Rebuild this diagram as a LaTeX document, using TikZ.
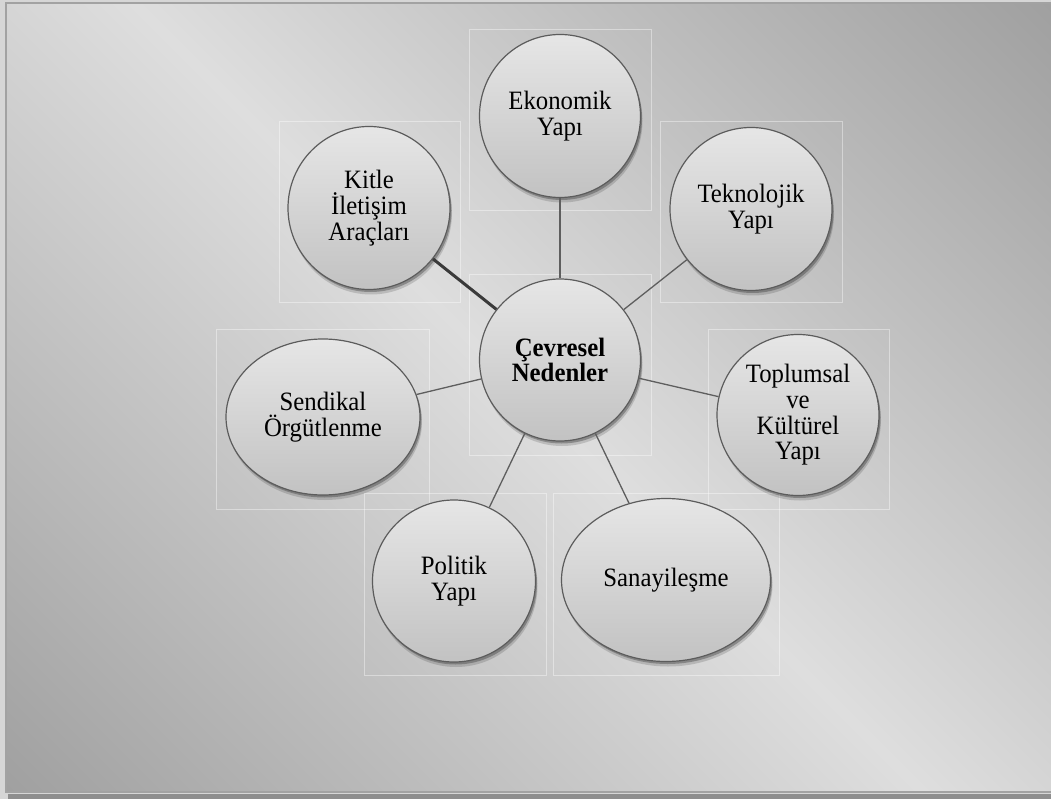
\documentclass[tikz,border=0pt]{standalone}
\usepackage{fontspec}
\setmainfont{Liberation Serif}[FakeStretch=0.935]
\usetikzlibrary{shapes.geometric,shadows}
\definecolor{bgdark}{HTML}{9E9E9E}
\definecolor{bglight}{HTML}{DEDEDE}
\definecolor{outerbg}{HTML}{D6D6D6}
\definecolor{framecol}{HTML}{A2A2A2}
\definecolor{stripcol}{HTML}{8E8E8E}
\definecolor{nodetop}{HTML}{E6E6E6}
\definecolor{nodebot}{HTML}{C2C2C2}
\definecolor{nodeline}{HTML}{5C5C5C}
\definecolor{linkcol}{HTML}{5E5E5E}
\definecolor{thicklink}{HTML}{3A3A3A}
\tikzset{
  bubble/.style={ellipse, draw=nodeline, line width=1.2pt, top color=nodetop, bottom color=nodebot,
    inner sep=0pt, align=center, font=\fontsize{26.5}{25.7}\selectfont,
    drop shadow={shadow xshift=1.5pt, shadow yshift=-2.5pt, opacity=0.35, fill=black!80},
    drop shadow={shadow xshift=2pt, shadow yshift=-5pt, opacity=0.15, fill=black}},
  link/.style={draw=linkcol, line width=1.3pt},
  boldlink/.style={draw=thicklink, line width=3pt},
  ghost/.style={draw=white, line width=0.8pt, opacity=0.4}
}
\begin{document}
\begin{tikzpicture}[x=1pt,y=-1pt]
\useasboundingbox (0,0) rectangle (1051,799);
\fill[outerbg] (0,0) rectangle (1051,799);
\fill[stripcol] (8,794) rectangle (1051,799);
\begin{scope}
  \clip (6,3) rectangle (1051,792);
  \shade[left color=bgdark, right color=bgdark, middle color=bglight,
    transform canvas={rotate around={45:(528,397)}}]
    (-140,-270) rectangle (1196,1064);
\end{scope}
\draw[framecol, line width=2pt] (1051,3) -- (6,3) -- (6,792) -- (1051,792);
% faint layout frames
\draw[ghost] (469,29) rectangle (651,210);
\draw[ghost] (279,121) rectangle (460,302);
\draw[ghost] (660,121) rectangle (842,302);
\draw[ghost] (216,329) rectangle (429,509);
\draw[ghost] (708,329) rectangle (889,509);
\draw[ghost] (364,493) rectangle (546,675);
\draw[ghost] (553,493) rectangle (779,675);
\draw[ghost] (469,274) rectangle (651,455);
% nodes
\node[bubble, minimum width=161pt, minimum height=163pt] (eko) at (560,116) {Ekonomik\\Yapı};
\node[bubble, minimum width=162pt, minimum height=163pt] (kit) at (369,208) {Kitle\\İletişim\\Araçları};
\node[bubble, minimum width=162pt, minimum height=163pt] (tek) at (751,209) {Teknolojik\\Yapı};
\node[bubble, minimum width=161pt, minimum height=162pt, font=\fontsize{26.5}{25.7}\selectfont\bfseries] (cen) at (560,360) {Çevresel\\Nedenler};
\node[bubble, minimum width=194pt, minimum height=156pt] (sen) at (323,417) {Sendikal\\Örgütlenme};
\node[bubble, minimum width=162pt, minimum height=161pt] (top) at (798,415) {Toplumsal\\ve\\Kültürel\\Yapı};
\node[bubble, minimum width=163pt, minimum height=162pt] (pol) at (454,581) {Politik\\Yapı};
\node[bubble, minimum width=209pt, minimum height=163pt] (san) at (666,580) {Sanayileşme};
% connectors
\draw[link] (cen) -- (eko);
\draw[boldlink] (cen) -- (kit);
\draw[link] (cen) -- (tek);
\draw[link] (cen) -- (sen);
\draw[link] (cen) -- (top);
\draw[link] (cen) -- (pol);
\draw[link] (cen) -- (san);
\end{tikzpicture}
\end{document}
